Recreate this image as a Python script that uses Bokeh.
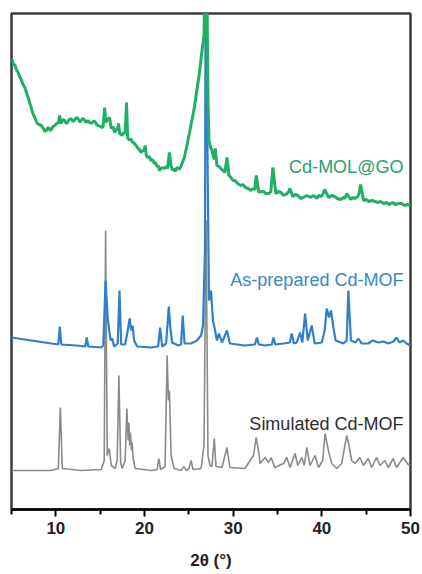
from bokeh.plotting import figure
from bokeh.models import FixedTicker, Range1d
from bokeh.core.properties import value
from bokeh.embed import file_html
from bokeh.resources import INLINE

# 2theta (deg) and stacked intensity (a.u.)
go_x = [5.0, 5.2, 5.4, 5.55, 5.75, 5.9, 6.1, 6.3, 6.5, 6.65, 6.8, 6.95, 7.06, 7.2, 7.3, 7.45,
        7.62, 7.75, 7.9, 8.1, 8.37, 8.5, 8.6, 8.75, 8.94, 9.05, 9.2, 9.35, 9.5, 9.7, 9.87,
        10.1, 10.3, 10.43, 10.55, 10.8, 11.0, 11.15, 11.3, 11.5, 11.75, 11.9, 12.1, 12.3, 12.5,
        12.65, 12.8, 13.0, 13.2, 13.4, 13.63, 13.8, 14.0, 14.2, 14.4, 14.6, 14.75, 15.0,
        15.32, 15.5, 15.63, 15.85, 16.06, 16.25, 16.45, 16.62, 16.8, 16.95, 17.07, 17.2, 17.45,
        17.65, 17.82, 17.97, 18.1, 18.3, 18.45, 18.6, 18.87, 19.05, 19.2, 19.4, 19.62, 19.8,
        19.95, 20.07, 20.2, 20.37, 20.55, 20.7, 20.9, 21.12, 21.25, 21.4, 21.55, 21.68, 21.85,
        22.0, 22.25, 22.45, 22.6, 22.81, 23.0, 23.19, 23.3, 23.45, 23.6, 23.75, 23.9, 24.1,
        24.5, 25.06, 25.62, 26.18, 26.49, 26.71, 26.88, 26.99, 27.16, 27.27, 27.45, 27.61,
        27.85, 27.98, 28.17, 28.4, 28.62, 28.85, 29.07, 29.3, 29.52, 29.75, 29.97, 30.2, 30.4,
        30.65, 30.87, 31.1, 31.4, 31.7, 32.0, 32.25, 32.45, 32.6, 32.9, 33.15, 33.4, 33.7,
        34.02, 34.25, 34.47, 34.81, 35.1, 35.4, 35.7, 35.94, 36.2, 36.39, 36.72, 37.0, 37.3,
        37.6, 37.9, 38.3, 38.75, 39.0, 39.2, 39.45, 39.65, 39.95, 40.1, 40.32, 40.77, 41.1,
        41.4, 41.75, 42.12, 42.45, 42.6, 42.8, 43.25, 43.5, 43.8, 44.05, 44.2, 44.37, 44.71,
        45.0, 45.3, 45.65, 46.0, 46.3, 46.62, 46.95, 47.3, 47.6, 48.0, 48.31, 48.65, 49.0,
        49.35, 49.7, 50.0]
go_y = [451, 446, 444, 440, 437, 433, 430, 425, 422, 418, 414, 410, 406, 403, 399, 395,
        392, 389, 386, 385, 384, 382, 381, 378, 379, 381, 382, 379, 380, 383, 384,
        386, 387, 394, 386, 390, 389, 386, 387, 390, 391, 388, 389, 392, 391,
        388, 388, 391, 390, 387, 389, 387, 386, 388, 388, 385, 384, 383,
        382, 402, 387, 390, 392, 381, 383, 377, 380, 380, 386, 376, 374,
        377, 376, 407, 372, 369, 371, 368, 366, 364, 362, 360, 357, 359,
        359, 364, 354, 352, 353, 349, 350, 346, 347, 343, 344, 339, 341,
        342, 341, 343, 341, 357, 343, 339, 341, 338, 341, 342, 340, 343,
        352, 376, 402, 436, 459, 474, 569, 569, 409, 369, 362, 359,
        350, 361, 344, 343, 341, 339, 337, 352, 334, 332, 329, 329, 327,
        325, 324, 325, 322, 321, 319, 321, 320, 334, 317, 318, 318, 316,
        316, 318, 342, 316, 318, 317, 314, 315, 317, 321, 313, 315, 314,
        311, 312, 314, 312, 314, 313, 311, 314, 313, 315, 320, 312, 314,
        313, 311, 310, 312, 311, 316, 310, 312, 311, 313, 316, 325, 309,
        310, 308, 309, 308, 307, 308, 306, 307, 305, 307, 305, 306, 306,
        304, 305, 304]

mof_x = [5.0, 7.25, 9.5, 10.28, 10.45, 10.62, 12.31, 13.32, 13.49, 13.66, 15.12, 15.35, 15.61,
         15.74, 15.85, 16.02, 16.19, 16.36, 16.58, 16.98, 17.18, 17.37, 17.82, 18.05, 18.33,
         18.5, 18.66, 18.83, 19.17, 20.75, 21.54, 21.76, 21.99, 22.44, 22.74, 22.89, 23.11,
         23.79, 24.12, 24.31, 24.52, 25.25, 25.92, 26.38, 26.6, 26.82, 26.94, 27.1, 27.27,
         27.5, 27.72, 27.89, 28.17, 28.4, 28.74, 29.3, 29.63, 31.32, 32.45, 32.68, 32.9, 33.58,
         34.36, 34.55, 34.75, 35.68, 36.39, 36.61, 36.84, 37.17, 37.55, 37.8, 38.11, 38.41,
         38.86, 39.2, 39.99, 40.32, 40.55, 40.81, 41.03, 41.3, 41.56, 42.43, 42.8, 42.99,
         43.28, 43.81, 44.12, 44.49, 45.24, 45.73, 46.37, 46.96, 47.49, 48.09, 48.42, 48.76,
         49.18, 49.55, 50.0]
mof_y = [172, 169, 166, 165, 183, 165, 164, 163, 172, 163, 162, 164, 229,
         209, 191, 179, 169, 171, 163, 166, 219, 165, 165, 176, 191,
         179, 184, 169, 163, 162, 163, 182, 163, 166, 203, 184, 167,
         164, 165, 194, 166, 166, 169, 174, 184, 259, 709, 359, 209,
         219, 189, 182, 169, 176, 167, 179, 166, 164, 165, 172, 165, 164,
         165, 172, 165, 166, 167, 176, 166, 167, 177, 167, 196, 169,
         184, 166, 167, 179, 201, 192, 199, 182, 169, 166, 169, 219,
         169, 167, 171, 166, 166, 169, 167, 168, 166, 168, 172, 167,
         169, 166, 164]

sim_x = [5.0, 9.5, 10.28, 10.51, 10.73, 12.87, 15.12, 15.46, 15.61, 15.8, 16.02, 16.25, 16.69,
         16.92, 17.11, 17.31, 17.48, 17.82, 18.01, 18.16, 18.24, 18.33, 18.42, 18.52, 18.61,
         18.72, 18.95, 20.75, 21.42, 21.61, 21.81, 22.32, 22.55, 22.7, 22.81, 23.0, 23.34,
         24.12, 24.46, 24.69, 25.02, 25.25, 25.47, 26.38, 26.71, 26.94, 27.16, 27.39, 27.61,
         27.87, 28.06, 28.74, 29.3, 29.63, 31.32, 32.3, 32.59, 32.86, 33.04, 33.6, 33.99,
         34.28, 34.69, 35.67, 36.05, 36.42, 36.98, 37.29, 37.74, 38.02, 38.3, 38.67, 39.23,
         39.62, 40.1, 40.36, 40.74, 41.11, 41.68, 42.24, 42.8, 43.06, 43.36, 43.74, 44.3,
         44.68, 45.24, 45.61, 46.17, 46.55, 47.11, 47.49, 48.05, 48.42, 49.18, 49.74, 50.0]
sim_y = [39, 39, 41, 102, 41, 39, 40, 49, 279, 54, 61, 44, 41,
         49, 134, 47, 41, 49, 101, 69, 87, 64, 77, 59, 67,
         51, 41, 39, 40, 51, 40, 43, 154, 109, 119, 54, 41,
         39, 43, 39, 41, 49, 40, 41, 64, 289, 54, 44, 43,
         71, 43, 42, 62, 42, 41, 54, 72, 59, 46, 52, 47,
         52, 42, 46, 52, 42, 56, 44, 52, 44, 62, 44, 54,
         42, 49, 76, 59, 46, 41, 46, 74, 64, 49, 46, 52,
         44, 51, 42, 52, 44, 49, 42, 51, 42, 52, 45, 44]

labels = ["Cd-MOL@GO", "As-prepared Cd-MOF", "Simulated Cd-MOF"]
label_y = [343, 230, 86]
label_x = 49.2

GREEN = "#1fb064"
BLUE = "#2f7fcc"
GRAY = "#8a8a8a"

p = figure(width=422, height=574, output_backend="svg", toolbar_location=None,
           x_range=Range1d(5, 50), y_range=Range1d(0, 496),
           min_border_left=11, min_border_right=12, min_border_top=13, min_border_bottom=65)
p.background_fill_color = "white"
p.border_fill_color = "white"
p.outline_line_color = "#3c3c3c"
p.outline_line_width = 2.5
p.grid.visible = False
p.yaxis.visible = False

p.line(sim_x, sim_y, line_color=GRAY, line_width=1.6)
p.line(mof_x, mof_y, line_color=BLUE, line_width=2.2)
p.line(go_x, go_y, line_color=GREEN, line_width=3)

p.text(x=[label_x], y=[label_y[0]], text=[labels[0]], text_color="#27a26a",
       text_align="right", text_baseline="alphabetic", text_font=value("Liberation Sans"),
       text_font_size="18px")
p.text(x=[label_x], y=[label_y[1]], text=[labels[1]], text_color="#3a87c9",
       text_align="right", text_baseline="alphabetic", text_font=value("Liberation Sans"),
       text_font_size="18px")
p.text(x=[label_x], y=[label_y[2]], text=[labels[2]], text_color="#2e2e2e",
       text_align="right", text_baseline="alphabetic", text_font=value("Liberation Sans"),
       text_font_size="18px")

ax = p.xaxis[0]
ax.ticker = FixedTicker(ticks=[10, 20, 30, 40, 50], minor_ticks=[5, 15, 25, 35, 45])
ax.axis_line_color = "black"
ax.axis_line_width = 2.5
ax.major_tick_line_color = "black"
ax.major_tick_line_width = 2
ax.major_tick_out = 7
ax.major_tick_in = 0
ax.minor_tick_line_color = "black"
ax.minor_tick_line_width = 2
ax.minor_tick_out = 5
ax.minor_tick_in = 0
ax.major_label_text_font = "Liberation Sans"
ax.major_label_text_font_size = "17px"
ax.major_label_text_font_style = "bold"
ax.major_label_text_color = "#222222"
ax.major_label_standoff = 5
ax.axis_label = "2θ (°)"
ax.axis_label_text_font = "Liberation Sans"
ax.axis_label_text_font_size = "17px"
ax.axis_label_text_font_style = "bold"
ax.axis_label_text_color = "#222222"
ax.axis_label_standoff = 14

open("out.html", "w").write(file_html(p, INLINE))
